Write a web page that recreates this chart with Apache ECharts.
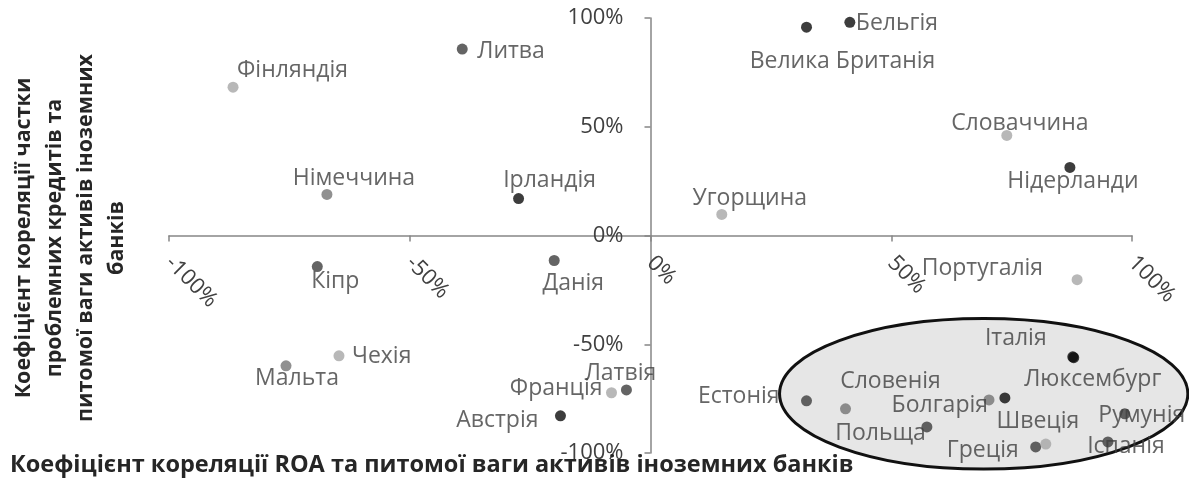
<!DOCTYPE html>
<html><head><meta charset="utf-8">
<script src="https://cdn.jsdelivr.net/npm/echarts@6/dist/echarts.min.js"></script>
<style>html,body{margin:0;padding:0;background:#fff}#c{width:1189px;height:482px}</style>
</head><body><div id="c"></div>
<script>
// ---- data ----
const countries = ['Фінляндія','Литва','Німеччина','Ірландія','Велика Британія','Бельгія','Угорщина','Словаччина','Нідерланди','Кіпр','Чехія','Мальта','Данія','Франція','Латвія','Австрія','Естонія','Словенія','Польща','Болгарія','Швеція','Італія','Люксембург','Румунія','Іспанія','Греція','','Португалія'];
const roaCorr = [-0.867,-0.391,-0.672,-0.274,0.324,0.414,0.148,0.740,0.871,-0.692,-0.647,-0.757,-0.200,-0.081,-0.050,-0.187,0.324,0.405,0.574,0.703,0.736,0.877,0.879,0.985,0.950,0.800,0.821,0.886];
const nplCorr = [0.682,0.857,0.189,0.170,0.958,0.980,0.097,0.460,0.313,-0.143,-0.553,-0.599,-0.115,-0.723,-0.710,-0.829,-0.760,-0.797,-0.880,-0.756,-0.747,-0.558,-0.562,-0.820,-0.949,-0.972,-0.959,-0.203];
const tickValues = [-1,-0.5,0,0.5,1];
const tickLabels = ['-100%','-50%','0%','50%','100%'];
const xTitle = 'Коефіцієнт кореляції ROA та питомої ваги активів іноземних банків';
const yTitleLines = ['Коефіцієнт кореляції частки','проблемних кредитів та','питомої ваги активів іноземних','банків'];

// ---- styles (not data) ----
const K='#0d0d0d', D='#3d3d3d', M='#747474', L='#a6a6a6';
// [colour, align, dx, dy]
const pointStyles = [
  [L,'left',4,-17],[D,'left',15,2],[M,'center',27,-16],[K,'center',31,-18],
  [K,'center',36,34],[K,'left',6,1],[L,'center',28,-16],[L,'center',13,-12],
  [K,'center',3,14],[D,'center',18,15],[L,'left',13,1],[M,'center',11,13],
  [D,'center',19,23],[L,'right',-9,-4],[D,'center',-6,-16],[K,'right',-22,5],
  [D,'right',-27,-4],[M,'center',45,-27],[D,'right',-1,7],[M,'right',-1,6],
  [K,'center',33,23],[K,'center',-57,-18],[K,'center',19,22],[D,'center',17,2],
  [D,'center',18,5],[D,'right',-17,4],[L,'center',0,0],[L,'right',-34,-11]
];
const highlight = {cx:0.692, cy:-0.728, rx:0.424, ry:0.346};

const FONT = '"Open Sans", "Noto Sans", sans-serif';
const TXT = '#404040';
const FS = 23;

const data = countries.map((n,i)=>({
  name:n, value:[roaCorr[i], nplCorr[i]],
  itemStyle:{color:pointStyles[i][0]},
  label:{align:pointStyles[i][1], offset:[pointStyles[i][2], pointStyles[i][3]]}
}));

const GT=18, GB=29, GL=169, GR=57, H=482, W=1189;
const gh = H-GT-GB, gw = W-GL-GR;
const chart = echarts.init(document.getElementById('c'));
const pct = v => tickLabels[tickValues.indexOf(Math.round(v*100)/100)] || '';
const axisCommon = {
  type:'value',min:-1,max:1,interval:0.5,
  axisLine:{onZero:false,lineStyle:{color:'#868686',width:1.5}},
  axisTick:{show:true,length:6,lineStyle:{color:'#868686',width:1.5}},
  splitLine:{show:false}
};
chart.setOption({
  animation:false,
  grid:{left:GL,right:GR,top:GT,bottom:GB,containLabel:false,outerBoundsMode:'none'},
  xAxis:Object.assign({},axisCommon,{offset:-gh/2,
    axisLabel:{rotate:-45,margin:24,color:TXT,fontSize:22,fontFamily:FONT,formatter:pct}}),
  yAxis:Object.assign({},axisCommon,{offset:-gw/2,
    axisLabel:{margin:27,color:TXT,fontSize:22,fontFamily:FONT,formatter:pct}}),
  series:[{type:'scatter',z:5,symbolSize:11,data:data,
    label:{show:true,position:'inside',verticalAlign:'middle',color:TXT,fontSize:FS,fontFamily:FONT,formatter:p=>p.name}
  }]
});

const c = chart.convertToPixel({gridIndex:0},[highlight.cx,highlight.cy]);
const e = chart.convertToPixel({gridIndex:0},[highlight.cx+highlight.rx,highlight.cy+highlight.ry]);
chart.setOption({graphic:[
  {type:'ellipse',z:1,shape:{cx:c[0],cy:c[1],rx:e[0]-c[0],ry:c[1]-e[1]},style:{fill:'#e6e6e6',stroke:'#111',lineWidth:3}},
  {type:'text',z:10,left:10,top:453,style:{text:xTitle,font:'bold 23.5px '+FONT,fill:'#262626'}},
  {type:'text',z:10,x:70,y:238,rotation:Math.PI/2,style:{text:yTitleLines.join('\n'),font:'bold 21.5px '+FONT,fill:'#262626',align:'center',verticalAlign:'middle',lineHeight:31}}
]});
</script></body></html>
